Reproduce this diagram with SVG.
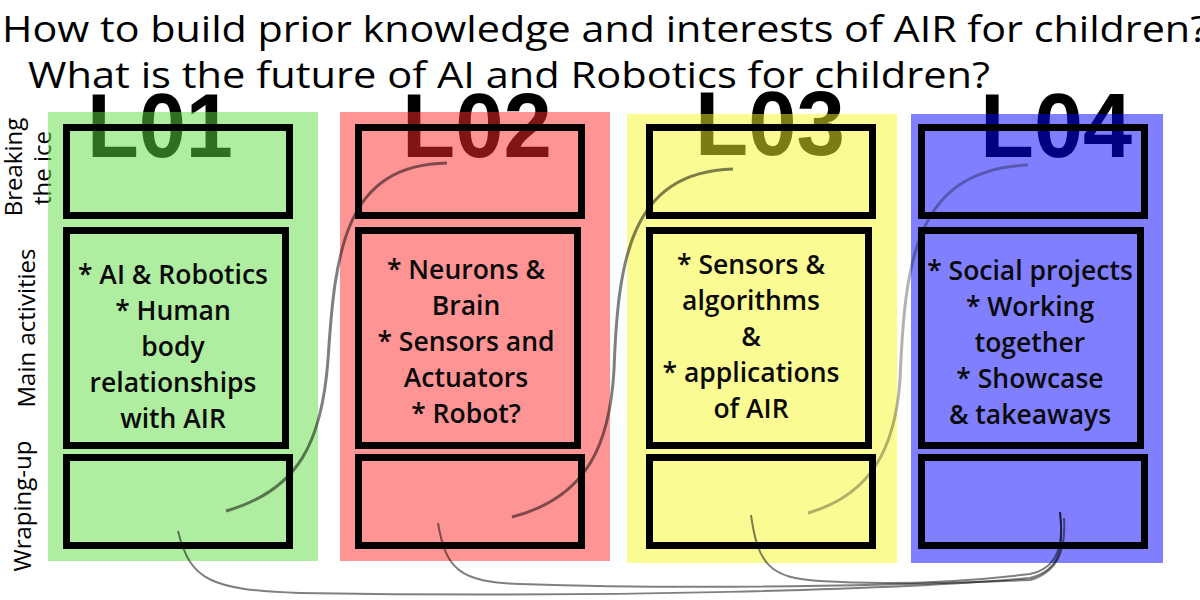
<svg xmlns="http://www.w3.org/2000/svg" width="1200" height="600" viewBox="0 0 1200 600">
<style>
.title{font-family:"Open Sans","DejaVu Sans",sans-serif;font-size:36px;fill:#000}
.big{font-family:"Liberation Sans",Arial,sans-serif;font-weight:bold;font-size:90px;fill:#000}
.side{font-family:"Open Sans","DejaVu Sans",sans-serif;font-size:24px;fill:#000;text-anchor:middle}
.body{font-family:"Open Sans","DejaVu Sans",sans-serif;font-weight:600;font-size:26.5px;fill:#0a0a0a;text-anchor:middle}
.col{opacity:0.5}
.box{fill:none;stroke:#000;stroke-width:7}
.c1{fill:none;stroke:#000;stroke-width:3;opacity:0.5}
.c2{fill:none;stroke:#000;stroke-width:3;opacity:0.3}
.c3{fill:none;stroke:#000;stroke-width:2;opacity:0.5}
</style>
<g id="title">
<text class="title" x="2" y="42" textLength="1206" lengthAdjust="spacingAndGlyphs">How to build prior knowledge and interests of AIR for children?</text>
<text class="title" x="28" y="88" textLength="962" lengthAdjust="spacingAndGlyphs">What is the future of AI and Robotics for children?</text>
</g>
<g id="side-labels">
<text class="side" transform="translate(22,167) rotate(-90)">Breaking</text>
<text class="side" transform="translate(51,168) rotate(-90)">the ice</text>
<text class="side" transform="translate(35,328) rotate(-90)">Main activities</text>
<text class="side" transform="translate(31,506) rotate(-90)">Wraping-up</text>
</g>
<g id="L01">
<text class="big" x="87" y="157" textLength="146" lengthAdjust="spacingAndGlyphs">L01</text>
<rect class="col" x="48" y="112" width="270" height="449" fill="#60dc44"/>
<rect class="box" x="66.5" y="127.5" width="223" height="88"/>
<rect class="box" x="66.5" y="230.5" width="219" height="215"/>
<rect class="box" x="66.5" y="457.5" width="223" height="88"/>
<text class="body" x="173" y="284">* AI &amp; Robotics</text>
<text class="body" x="173" y="320">* Human</text>
<text class="body" x="173" y="356">body</text>
<text class="body" x="173" y="392">relationships</text>
<text class="body" x="173" y="428">with AIR</text>
</g>
<g id="L02">
<text class="big" x="402" y="157" textLength="150" lengthAdjust="spacingAndGlyphs">L02</text>
<rect class="col" x="340" y="112" width="270" height="449" fill="#ff2a2a"/>
<rect class="box" x="358.5" y="127.5" width="223" height="88"/>
<rect class="box" x="358.5" y="230.5" width="219" height="215"/>
<rect class="box" x="358.5" y="457.5" width="223" height="88"/>
<text class="body" x="466" y="279">* Neurons &amp;</text>
<text class="body" x="466" y="315">Brain</text>
<text class="body" x="466" y="351">* Sensors and</text>
<text class="body" x="466" y="387">Actuators</text>
<text class="body" x="466" y="423">* Robot?</text>
</g>
<g id="L03">
<text class="big" x="695" y="155" textLength="150" lengthAdjust="spacingAndGlyphs">L03</text>
<rect class="col" x="627" y="114" width="270" height="449" fill="#f8f82a"/>
<rect class="box" x="649.5" y="127.5" width="223" height="88"/>
<rect class="box" x="649.5" y="230.5" width="219" height="215"/>
<rect class="box" x="649.5" y="457.5" width="223" height="88"/>
<text class="body" x="751" y="274">* Sensors &amp;</text>
<text class="body" x="751" y="310">algorithms</text>
<text class="body" x="751" y="346">&amp;</text>
<text class="body" x="751" y="382">* applications</text>
<text class="body" x="751" y="418">of AIR</text>
</g>
<g id="L04">
<text class="big" x="980" y="157" textLength="152" lengthAdjust="spacingAndGlyphs">L04</text>
<rect class="col" x="911" y="114" width="252" height="449" fill="#0000ff"/>
<rect class="box" x="921.5" y="127.5" width="223" height="88"/>
<rect class="box" x="921.5" y="230.5" width="219" height="215"/>
<rect class="box" x="921.5" y="457.5" width="223" height="88"/>
<text class="body" x="1030" y="280">* Social projects</text>
<text class="body" x="1030" y="316">* Working</text>
<text class="body" x="1030" y="352">together</text>
<text class="body" x="1030" y="388">* Showcase</text>
<text class="body" x="1030" y="424">&amp; takeaways</text>
</g>
<g id="connectors">
<path class="c1" d="M226 511 C300 490 322 440 328 360 C335 250 345 165 447 163"/>
<path class="c1" d="M512 517 C590 497 610 440 614 370 C618 260 630 172 733 169"/>
<path class="c2" d="M808 513 C870 495 895 450 900 380 C905 260 915 170 1028 165"/>
<path class="c3" d="M178 531 C190 580 210 590 300 593 C600 598 900 590 1030 578 C1060 570 1064 550 1060 512"/>
<path class="c3" d="M438 523 C446 570 460 582 520 584 C700 590 900 585 1030 580 C1058 572 1066 550 1064 518"/>
<path class="c3" d="M751 515 C758 565 770 578 820 581 C900 586 980 580 1030 574 C1058 568 1064 545 1060 512"/>
</g>
</svg>
